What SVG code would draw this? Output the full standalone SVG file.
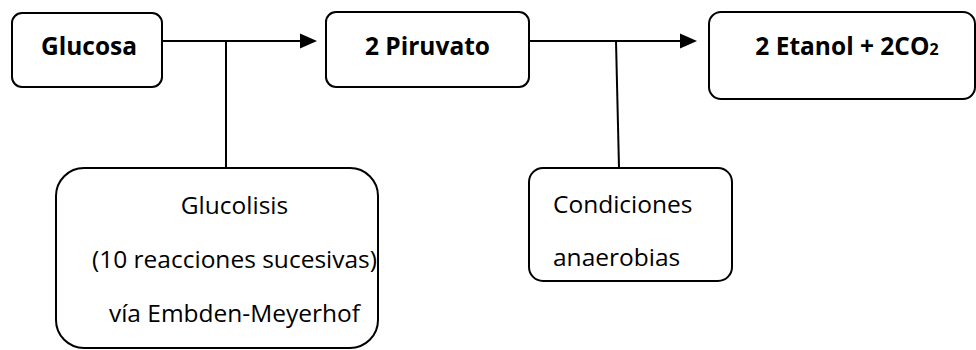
<svg xmlns="http://www.w3.org/2000/svg" width="976" height="350" viewBox="0 0 976 350">
<style>
.box{fill:#fff;stroke:#000;stroke-width:2}
.ln{stroke:#000;stroke-width:2;fill:none}
.ah{fill:#000}
.t{font-family:"Open Sans","Liberation Sans",sans-serif;font-size:24.5px;fill:#000}
.b{font-weight:bold;text-anchor:middle}
.c{text-anchor:middle}
</style>
<rect width="976" height="350" fill="#fff"/>
<g id="connectors">
<line class="ln" x1="162" y1="41" x2="302" y2="41"/>
<polygon class="ah" points="300,33.5 317,41 300,48.5"/>
<line class="ln" x1="226" y1="41" x2="226" y2="168"/>
<line class="ln" x1="529" y1="41" x2="682" y2="41"/>
<polygon class="ah" points="680,33.5 697,41 680,48.5"/>
<line class="ln" x1="616" y1="41" x2="619" y2="168"/>
</g>
<g id="glucosa">
<rect class="box" x="12" y="13" width="150" height="74" rx="10"/>
<text class="t b" x="89" y="55">Glucosa</text>
</g>
<g id="piruvato">
<rect class="box" x="326" y="12" width="203" height="75" rx="10"/>
<text class="t b" x="427.5" y="55">2 Piruvato</text>
</g>
<g id="etanol">
<rect class="box" x="709" y="12" width="266" height="87" rx="12"/>
<text class="t b" x="847" y="55">2 Etanol + 2CO<tspan font-size="16">2</tspan></text>
</g>
<g id="glucolisis">
<rect class="box" x="56" y="168" width="322" height="180" rx="28"/>
<text class="t c" x="234.5" y="214">Glucolisis</text>
<text class="t c" x="234.5" y="268">(10 reacciones sucesivas)</text>
<text class="t c" x="234.5" y="322">vía Embden-Meyerhof</text>
</g>
<g id="condiciones">
<rect class="box" x="529" y="168" width="203" height="113" rx="14"/>
<text class="t" x="553" y="213">Condiciones</text>
<text class="t" x="553" y="266">anaerobias</text>
</g>
</svg>
